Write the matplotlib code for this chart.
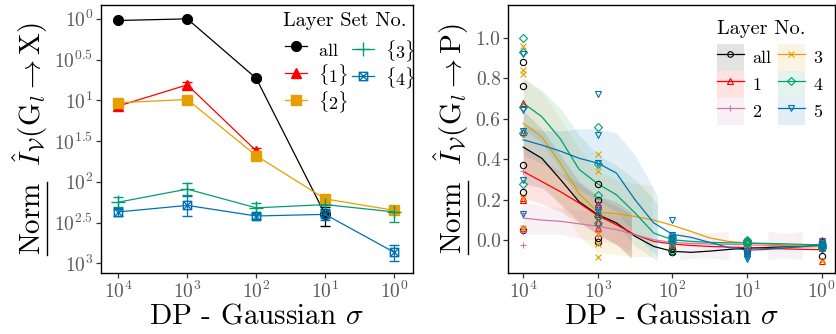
import matplotlib.pyplot as plt
import numpy as np
from matplotlib.path import Path
from matplotlib.lines import Line2D
from matplotlib.patches import Patch

plt.rcParams.update({
    "font.family": "serif",
    "font.serif": ["cmr10"],
    "mathtext.fontset": "cm",
    "axes.unicode_minus": False,
    "axes.formatter.use_mathtext": True,
})

sigma = [1e4, 1e3, 1e2, 1e1, 1e0]
sigma_labels = [r"$10^4$", r"$10^3$", r"$10^2$", r"$10^1$", r"$10^0$"]

# ---- left: layer sets, log10 of the normalised value ----
left_ticks_log = [0, -0.5, -1, -1.5, -2, -2.5, -3]
left_tick_labels = [r"$10^0$", r"$10^{0.5}$", r"$10^1$", r"$10^{1.5}$",
                    r"$10^2$", r"$10^{2.5}$", r"$10^3$"]

all_log = [-0.02, 0.0, -0.73, -2.40]
all_lo = [-0.03, -0.01, -0.75, -2.54]
all_hi = [-0.01, 0.01, -0.71, -2.31]

s1_log = [-1.07, -0.81, -1.62]
s1_lo = [-1.09, -0.85, -1.65]
s1_hi = [-1.05, -0.77, -1.58]

s2_log = [-1.03, -0.99, -1.68, -2.21, -2.35]
s2_lo = [-1.05, -1.01, -1.70, -2.23, -2.37]
s2_hi = [-1.01, -0.97, -1.66, -2.19, -2.33]

s3_log = [-2.25, -2.09, -2.32, -2.28, -2.37]
s3_lo = [-2.31, -2.16, -2.39, -2.35, -2.49]
s3_hi = [-2.19, -2.02, -2.26, -2.22, -2.30]

s4_log = [-2.37, -2.29, -2.42, -2.40, -2.865]
s4_lo = [-2.42, -2.42, -2.46, -2.47, -2.97]
s4_hi = [-2.34, -2.18, -2.38, -2.34, -2.78]

# ---- right: single layers, individual runs at each sigma ----
layer_names = ["all", "1", "2", "3", "4", "5"]
pts_all = [[0.88, 0.76, 0.37, 0.24, 0.05], [0.28, 0.20, 0.12, 0.01, -0.01],
           [-0.05, -0.055, -0.05, -0.045, -0.055], [-0.04, -0.045, -0.035, -0.05, -0.03],
           [-0.01, -0.075, -0.03, -0.02, -0.04]]
pts_1 = [[0.68, 0.535, 0.21, 0.20, 0.06], [0.18, 0.17, 0.13, 0.09, 0.06],
         [-0.02, -0.02, -0.025, -0.015, -0.02], [-0.03, -0.05, -0.06, -0.04, -0.035],
         [0.0, -0.10, -0.02, -0.03, -0.04]]
pts_2 = [[0.34, 0.135, 0.06, 0.04, -0.025], [0.17, 0.07, 0.05, 0.04, 0.02],
         [-0.01, -0.02, -0.005, -0.015, -0.01], [-0.02, -0.03, -0.04, -0.025, -0.035],
         [-0.02, -0.03, -0.025, -0.035, -0.015]]
pts_3 = [[0.96, 0.84, 0.82, 0.21, 0.06], [0.425, 0.34, 0.03, -0.02, -0.08],
         [0.0, -0.01, 0.005, -0.02, -0.01], [-0.005, -0.01, -0.02, -0.015, -0.03],
         [-0.10, -0.01, -0.02, -0.03, -0.04]]
pts_4 = [[1.00, 0.93, 0.66, 0.53, 0.28], [0.56, 0.375, 0.225, 0.12, 0.085],
         [0.02, 0.01, 0.0, -0.01, -0.05], [0.0, -0.01, -0.02, -0.005, -0.015],
         [-0.02, -0.03, -0.04, -0.025, -0.035]]
pts_5 = [[0.92, 0.645, 0.54, 0.30, 0.13], [0.72, 0.52, 0.38, 0.16, 0.14],
         [0.10, 0.025, 0.01, 0.0, -0.02], [-0.05, -0.07, -0.09, -0.06, -0.08],
         [-0.005, -0.02, -0.03, -0.035, -0.045]]

# smoothed trend, sampled every quarter decade of sigma
trend_log_sigma = [4, 3.75, 3.5, 3.25, 3, 2.75, 2.5, 2.25, 2, 1.75, 1.5, 1.25, 1,
                   0.75, 0.5, 0.25, 0]
trend_all = [0.46, 0.405, 0.30, 0.19, 0.127, 0.086, 0.02, -0.03, -0.054, -0.059,
             -0.053, -0.045, -0.038, -0.035, -0.032, -0.031, -0.03]
trend_1 = [0.34, 0.29, 0.24, 0.184, 0.122, 0.077, 0.028, -0.005, -0.018, -0.025,
           -0.03, -0.033, -0.036, -0.039, -0.042, -0.044, -0.046]
trend_2 = [0.11, 0.10, 0.094, 0.082, 0.069, 0.053, 0.028, 0.003, -0.01, -0.015,
           -0.018, -0.02, -0.022, -0.024, -0.026, -0.027, -0.028]
trend_3 = [0.578, 0.51, 0.38, 0.23, 0.14, 0.131, 0.118, 0.10, 0.074, 0.044, 0.012,
           -0.005, -0.013, -0.018, -0.022, -0.026, -0.03]
trend_4 = [0.677, 0.61, 0.50, 0.35, 0.279, 0.225, 0.135, 0.036, 0.003, -0.005,
           -0.01, -0.012, -0.013, -0.015, -0.017, -0.02, -0.022]
trend_5 = [0.496, 0.47, 0.44, 0.405, 0.381, 0.332, 0.20, 0.086, 0.03, 0.015,
           -0.01, -0.035, -0.048, -0.045, -0.038, -0.03, -0.022]

# confidence ribbons: (log10 sigma, lower, upper) pieces
band_all = [([4, 3.75, 3.5, 3.25, 3, 2.75, 2.55],
             [0.28, 0.26, 0.18, 0.09, 0.03, -0.02, -0.09],
             [0.64, 0.55, 0.42, 0.29, 0.22, 0.19, 0.14])]
band_1 = [([4, 3.75, 3.5, 3.25, 3, 2.75, 2.55],
           [0.21, 0.18, 0.14, 0.09, 0.03, -0.02, -0.08],
           [0.47, 0.40, 0.34, 0.28, 0.21, 0.17, 0.13])]
band_2 = [([4, 3.75, 3.5, 3.25, 3, 2.75, 2.55],
           [0.03, 0.03, 0.03, 0.01, 0.0, -0.02, -0.05],
           [0.19, 0.17, 0.16, 0.15, 0.14, 0.12, 0.10]),
          ([1.9, 1.6, 1.25], [-0.095, -0.085, -0.095], [0.045, 0.035, 0.045]),
          ([0.72, 0.5, 0.26], [-0.095, -0.085, -0.095], [0.045, 0.035, 0.045])]
band_3 = [([4, 3.75, 3.5, 3.25, 3, 2.75, 2.5, 2.27],
           [0.36, 0.29, 0.17, 0.02, -0.06, -0.07, -0.08, -0.08],
           [0.80, 0.73, 0.60, 0.45, 0.34, 0.30, 0.28, 0.27])]
band_4 = [([4, 3.75, 3.5, 3.25, 3, 2.75, 2.5, 2.2],
           [0.55, 0.48, 0.35, 0.19, 0.14, 0.08, -0.03, -0.10],
           [0.80, 0.74, 0.65, 0.52, 0.42, 0.37, 0.30, 0.18])]
band_5 = [([4, 3.75, 3.5, 3.25, 3, 2.75, 2.5, 2.2],
           [0.42, 0.38, 0.32, 0.25, 0.20, 0.14, 0.03, -0.08],
           [0.57, 0.54, 0.54, 0.55, 0.55, 0.53, 0.42, 0.22])]

black, red, pink = "#000000", "#FF0000", "#CC79A7"
orange, green, blue = "#E69F00", "#009E73", "#0072B2"
tick_grey = "#5a5a5a"

# square with a cross inside
boxx = Path([(-1, -1), (1, -1), (1, 1), (-1, 1), (-1, -1),
             (-1, -1), (1, 1), (-1, 1), (1, -1)],
            [Path.MOVETO, Path.LINETO, Path.LINETO, Path.LINETO, Path.CLOSEPOLY,
             Path.MOVETO, Path.LINETO, Path.MOVETO, Path.LINETO])

fig = plt.figure(figsize=(8.36, 3.34), dpi=100)
ax1 = fig.add_axes([0.1205, 0.1826, 0.3735, 0.8024])
ax2 = fig.add_axes([0.608, 0.1826, 0.3908, 0.8024])


def draw_set(ax, vals, lo, hi, color, marker, label, ms=7, mfc=None):
    x = sigma[:len(vals)]
    v = 10 ** np.array(vals)
    err = [v - 10 ** np.array(lo), 10 ** np.array(hi) - v]
    ax.errorbar(x, v, yerr=err, color=color, lw=0.9, elinewidth=0.9, capsize=3.5,
                capthick=0.9, marker=marker, ms=ms, mfc=mfc or color, mec=color,
                mew=1.0, label=label)


draw_set(ax1, all_log, all_lo, all_hi, black, "o", r"$\mathrm{all}$")
draw_set(ax1, s1_log, s1_lo, s1_hi, red, "^", r"$\{1\}$")
draw_set(ax1, s2_log, s2_lo, s2_hi, orange, "s", r"$\{2\}$")
draw_set(ax1, s3_log, s3_lo, s3_hi, green, "+", r"$\{3\}$", ms=10)
draw_set(ax1, s4_log, s4_lo, s4_hi, blue, boxx, r"$\{4\}$", ms=6, mfc="none")

ax1.set_xscale("log")
ax1.set_yscale("log")
ax1.set_xlim(10 ** 4.256, 10 ** -0.275)
ax1.set_ylim(10 ** -3.12, 10 ** 0.17)
ax1.set_yticks([10 ** t for t in left_ticks_log])
ax1.set_yticklabels(left_tick_labels)
ax1.minorticks_off()

# two legend columns, each one its own legend so their rows line up
handles, labels = ax1.get_legend_handles_labels()
handles = [h[0] for h in handles]
leg_opts = dict(loc="upper left", frameon=False, fontsize=13, handlelength=1.22,
                handleheight=1.86, handletextpad=0.61, labelspacing=0.0,
                borderpad=0.0, borderaxespad=0.0)
leg_a = ax1.legend(handles[:3], labels[:3], bbox_to_anchor=(0.590, 0.881),
                   **leg_opts)
ax1.add_artist(leg_a)
ax1.legend(handles[3:], labels[3:], bbox_to_anchor=(0.8047, 0.8735), **leg_opts)
ax1.text(0.584, 0.9216, "Layer Set No.", transform=ax1.transAxes,
         fontsize=14.6, ha="left", va="baseline")

# right panel
groups = [
    (pts_all, trend_all, band_all, black, "o"),
    (pts_1, trend_1, band_1, red, "^"),
    (pts_2, trend_2, band_2, pink, "+"),
    (pts_3, trend_3, band_3, orange, "x"),
    (pts_4, trend_4, band_4, green, "D"),
    (pts_5, trend_5, band_5, blue, "v"),
]
trend_x = 10 ** np.array(trend_log_sigma, dtype=float)
right_handles = []
for (pts, trend, bands, color, marker), name in zip(groups, layer_names):
    for seg_x, seg_lo, seg_hi in bands:
        ax2.fill_between(10 ** np.array(seg_x, dtype=float), seg_lo, seg_hi,
                         color=color, alpha=0.11, lw=0)
for (pts, trend, bands, color, marker), name in zip(groups, layer_names):
    ax2.plot(trend_x, trend, color=color, lw=0.9)
for (pts, trend, bands, color, marker), name in zip(groups, layer_names):
    ms = 4.5 if marker in ("o", "D") else 5
    for s, vals in zip(sigma, pts):
        ax2.plot([s] * len(vals), vals, ls="none", marker=marker, ms=ms,
                 mfc="none", mec=color, mew=0.8)
    right_handles.append((Patch(facecolor=color, alpha=0.11, lw=0),
                          Line2D([], [], color=color, lw=0.9, marker=marker,
                                 ms=4, mfc="none", mec=color, mew=0.8)))

ax2.set_xscale("log")
ax2.set_xlim(10 ** 4.2, 10 ** -0.18)
ax2.set_ylim(-0.161, 1.161)
ax2.set_yticks([0.0, 0.2, 0.4, 0.6, 0.8, 1.0])
ax2.set_yticklabels(["0.0", "0.2", "0.4", "0.6", "0.8", "1.0"])
ax2.minorticks_off()
ax2.legend(right_handles, layer_names, loc="upper left",
           bbox_to_anchor=(0.638, 0.8545), ncol=2, frameon=False, fontsize=13,
           handlelength=1.49, handleheight=1.92, handletextpad=0.48,
           columnspacing=0.35, labelspacing=0.0, borderpad=0.0,
           borderaxespad=0.0)
ax2.text(0.638, 0.8907, "Layer No.", transform=ax2.transAxes,
         fontsize=14.6, ha="left", va="baseline")

for ax, target in ((ax1, "X"), (ax2, "P")):
    ax.set_xticks(sigma)
    ax.set_xticklabels(sigma_labels)
    ax.tick_params(axis="both", which="major", labelsize=14, labelcolor=tick_grey,
                   length=3.5, width=0.9, color="#333333", pad=2)
    for sp in ax.spines.values():
        sp.set_linewidth(1.0)
    ax.set_xlabel(r"DP - Gaussian $\sigma$", fontsize=21, labelpad=1)
    ax.set_ylabel(r"$\mathrm{Norm}\ \ \hat{I}_{\mathcal{V}}(\mathrm{G}_l \rightarrow \mathrm{%s})$"
                  % target, fontsize=21, labelpad=3)

# underline under "Norm" in both y labels
fig.canvas.draw()
renderer = fig.canvas.get_renderer()
tmp = fig.text(0, 0, r"$\mathrm{Norm}$", fontsize=21)
norm_w = tmp.get_window_extent(renderer).width
tmp.remove()
W, H = fig.bbox.width, fig.bbox.height
for ax in (ax1, ax2):
    bb = ax.yaxis.label.get_window_extent(renderer)
    ux = bb.x1 - 3
    fig.add_artist(Line2D([ux / W, ux / W], [bb.y0 / H, (bb.y0 + norm_w) / H],
                          color="black", lw=1.0))

fig.savefig("out.png", dpi=100)
